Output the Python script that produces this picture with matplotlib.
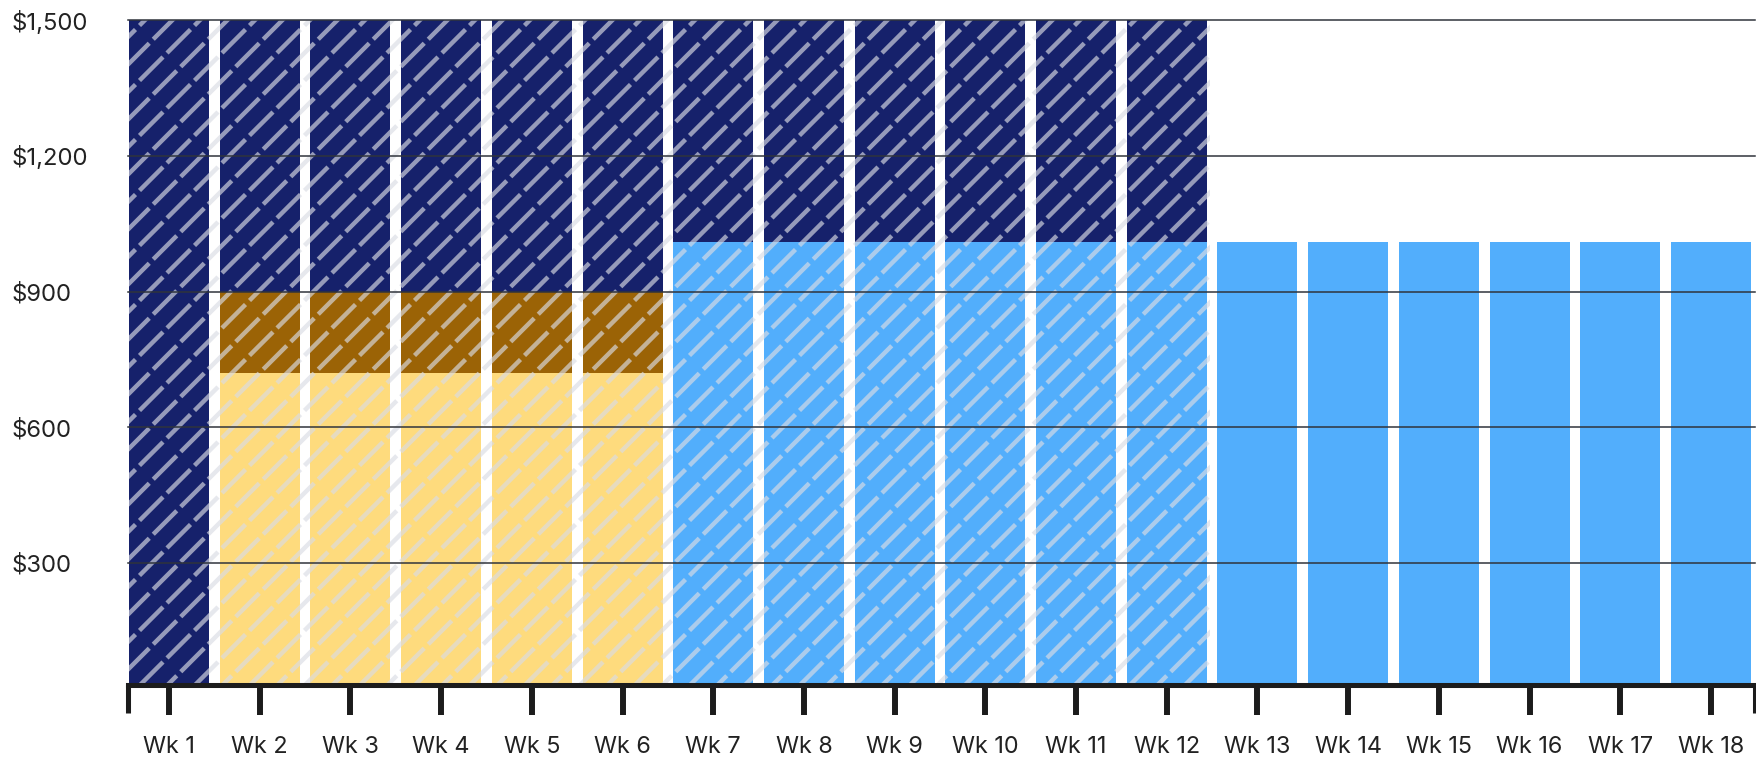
import numpy as np
import matplotlib
matplotlib.use("Agg")
import matplotlib.pyplot as plt
import matplotlib.hatch as mhatch
from matplotlib.path import Path

# weekly amounts, stacked bottom -> top
weeks = ["Wk 1", "Wk 2", "Wk 3", "Wk 4", "Wk 5", "Wk 6", "Wk 7", "Wk 8", "Wk 9",
         "Wk 10", "Wk 11", "Wk 12", "Wk 13", "Wk 14", "Wk 15", "Wk 16", "Wk 17", "Wk 18"]
sky = [0, 0, 0, 0, 0, 0, 1010, 1010, 1010, 1010, 1010, 1010, 1010, 1010, 1010, 1010, 1010, 1010]
gold_light = [0, 720, 720, 720, 720, 720, 0, 0, 0, 0, 0, 0, 0, 0, 0, 0, 0, 0]
gold_dark = [0, 180, 180, 180, 180, 180, 0, 0, 0, 0, 0, 0, 0, 0, 0, 0, 0, 0]
navy = [1500, 600, 600, 600, 600, 600, 490, 490, 490, 490, 490, 490, 0, 0, 0, 0, 0, 0]
n_hatched = 12                      # first 12 weeks get the striped overlay
yticks = [300, 600, 900, 1200, 1500]

colors = {"sky": "#52aefc", "gold_light": "#fedb7d", "gold_dark": "#9b6306", "navy": "#16216b"}
ink = "#1c1c1c"


class DashedDiagonal(mhatch.HatchPatternBase):
    # "/" stripes broken along "\" so the dashes sit on a diamond grid
    def __init__(self, hatch, density):
        on = hatch.count("/") > 0
        cs, ss = np.meshgrid(np.arange(-6, 7) / 4, np.arange(-2, 6) / 2)
        self.c = cs.ravel() if on else np.array([])
        self.s = ss.ravel() if on else np.array([])
        self.num_vertices = 2 * len(self.c)

    def set_vertices_and_codes(self, vertices, codes):
        gap = 0.13
        s0, s1 = self.s + gap / 2, self.s + 1 / 2 - gap / 2
        vertices[0::2, 0] = (s0 - self.c) / 2
        vertices[0::2, 1] = (s0 + self.c) / 2
        vertices[1::2, 0] = (s1 - self.c) / 2
        vertices[1::2, 1] = (s1 + self.c) / 2
        codes[0::2] = Path.MOVETO
        codes[1::2] = Path.LINETO


mhatch._hatch_types[:] = [DashedDiagonal]

plt.rcParams["font.family"] = "Inter"
plt.rcParams["hatch.linewidth"] = 2.9

DPI = 110
fig = plt.figure(figsize=(1756 / DPI, 758 / DPI), dpi=DPI)
ax = fig.add_axes([128 / 1756, 1 - 685 / 758, 1627 / 1756, 665 / 758])

x = np.arange(len(weeks))
w = 0.882
bottom = np.zeros(len(weeks))
for key, vals in [("sky", sky), ("gold_light", gold_light), ("gold_dark", gold_dark), ("navy", navy)]:
    ax.bar(x, vals, w, bottom=bottom, color=colors[key], lw=0, zorder=1)
    bottom += np.array(vals)

ax.axvspan(x[0] - w / 2, x[n_hatched - 1] + w / 2 + 0.035, facecolor="none",
           edgecolor=(0.855, 0.863, 0.894, 0.66), hatch="/", lw=0, zorder=1.5)

ax.set_xlim(-0.452, 17.485)
ax.set_ylim(31, 1500)
ax.set_axisbelow(False)

ax.set_yticks(yticks, labels=[f"${v:,}" for v in yticks])
ax.grid(axis="y", color="#30343c", lw=1.0)
for gl in ax.get_ygridlines():
    gl.set_clip_on(False)
ax.tick_params(axis="y", length=0, pad=76, labelsize=15.6, labelcolor="#222222")
for lab in ax.get_yticklabels():
    lab.set_ha("left")

ax.set_xticks(x, labels=weeks)
ax.set_xticks(ax.get_xlim(), minor=True)
ax.tick_params(axis="x", which="major", length=19.6, width=3.9, color=ink, pad=13.5,
               labelsize=15.3, labelcolor="#222222")
ax.tick_params(axis="x", which="minor", length=18.5, width=3.3, color=ink)

for side in ["left", "top", "right"]:
    ax.spines[side].set_visible(False)
ax.spines["bottom"].set_linewidth(3.3)
ax.spines["bottom"].set_color(ink)

fig.savefig("out.png", dpi=DPI)
